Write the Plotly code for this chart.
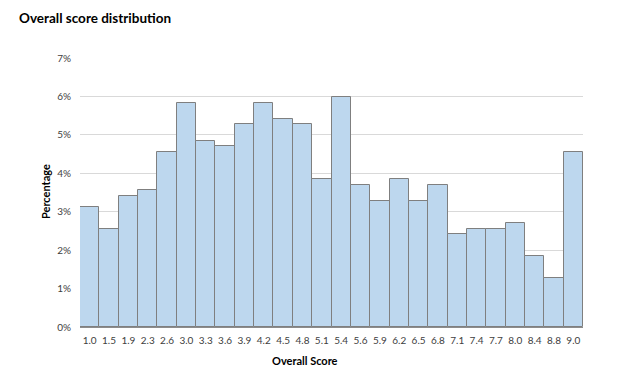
import plotly.graph_objects as go

scores = ["1.0", "1.5", "1.9", "2.3", "2.6", "3.0", "3.3", "3.6", "3.9", "4.2", "4.5", "4.8", "5.1",
          "5.4", "5.6", "5.9", "6.2", "6.5", "6.8", "7.1", "7.4", "7.7", "8.0", "8.4", "8.8", "9.0"]
percentages = [3.13, 2.56, 3.42, 3.56, 4.56, 5.84, 4.84, 4.70, 5.27, 5.84, 5.41, 5.27, 3.85,
               5.98, 3.70, 3.28, 3.85, 3.28, 3.70, 2.42, 2.56, 2.56, 2.71, 1.85, 1.28, 4.56]
y_ticks = [0, 1, 2, 3, 4, 5, 6, 7]
y_tick_labels = [f"{v}%" for v in y_ticks]

FONT = "Lato, 'Open Sans', sans-serif"
OFF = 8  # default page body margin
W, H = 617 - OFF, 380 - OFF
L, R, T, B = 80 - OFF, 34, 58 - OFF, 53


def px_x(x):
    return (x - OFF - L) / (W - L - R)


def px_y(y):
    return 1 - (y - OFF - T) / (H - T - B)


fig = go.Figure(go.Bar(
    x=scores, y=percentages,
    marker=dict(color="#BDD7EE", line=dict(color="#7F7F7F", width=1)),
    hoverinfo="x+y",
))

fig.update_layout(
    width=W, height=H,
    margin=dict(l=L, r=R, t=T, b=B),
    plot_bgcolor="white", paper_bgcolor="white",
    bargap=0,
    showlegend=False,
    font=dict(family=FONT, size=10, color="#404040"),
    xaxis=dict(
        type="category",
        showgrid=False,
        showline=True, linecolor="#8C8C8C", linewidth=1,
        ticks="", tickfont=dict(size=10, color="#404040"),
        ticklabelstandoff=4,
    ),
    yaxis=dict(
        range=[0, 7],
        tickvals=y_ticks, ticktext=y_tick_labels,
        showgrid=True, gridcolor="#D9D9D9", gridwidth=1,
        zeroline=False, showline=False,
        ticks="", tickfont=dict(size=10, color="#404040"),
        ticklabelstandoff=8,
    ),
    annotations=[
        dict(text="<b>Overall score distribution</b>", xref="paper", yref="paper",
             x=px_x(17), y=px_y(18),
             xanchor="left", yanchor="middle", showarrow=False,
             font=dict(size=13.5, color="#000000", family=FONT)),
        dict(text="<b>Overall Score</b>", xref="paper", yref="paper",
             x=px_x(305), y=px_y(360),
             xanchor="center", yanchor="middle", showarrow=False,
             font=dict(size=11, color="#000000", family=FONT)),
        dict(text="<b>Percentage</b>", xref="paper", yref="paper",
             x=px_x(45), y=px_y(192),
             xanchor="center", yanchor="middle", textangle=-90, showarrow=False,
             font=dict(size=11, color="#000000", family=FONT)),
    ],
)

fig.write_html("out.html")
